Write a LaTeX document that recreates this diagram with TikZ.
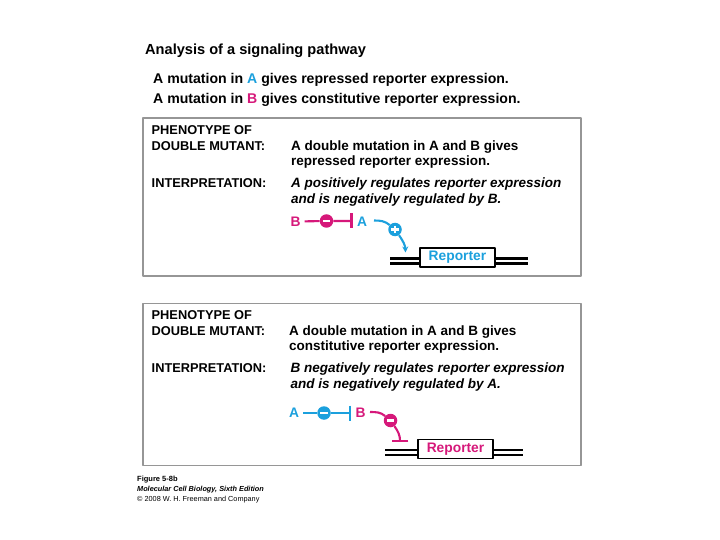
\documentclass[tikz,border=0pt]{standalone}
\usepackage{fontspec}
\setmainfont{Liberation Sans}
\usetikzlibrary{arrows.meta}
\definecolor{pathcyan}{RGB}{27,160,221}
\definecolor{pathmag}{RGB}{214,24,122}
\definecolor{framegray}{RGB}{150,150,150}

\begin{document}
\begin{tikzpicture}[x=1pt, y=-1pt, line join=round,
	txt/.style={anchor=base west, inner sep=0pt, font=\bfseries\fontsize{13.5}{16}\selectfont},
	itxt/.style={anchor=base west, inner sep=0pt, font=\bfseries\itshape\fontsize{13.5}{16}\selectfont},
	lbl/.style={anchor=base west, inner sep=0pt, font=\bfseries\fontsize{12.8}{16}\selectfont},
	foot/.style={anchor=base west, inner sep=0pt, font=\fontsize{7.3}{9}\selectfont},
	gene/.style={inner sep=4pt, font=\bfseries\fontsize{13.8}{16}\selectfont, text=#1},
	sign/.style={circle, fill=#1, minimum size=13.5pt, inner sep=0pt},
	minus/.style={path picture={\draw[white, line width=2.2pt]
		([xshift=3pt]path picture bounding box.west) -- ([xshift=-3pt]path picture bounding box.east);}},
	plus/.style={path picture={\draw[white, line width=2.2pt]
		([xshift=3pt]path picture bounding box.west) -- ([xshift=-3pt]path picture bounding box.east)
		([yshift=-3pt]path picture bounding box.north) -- ([yshift=3pt]path picture bounding box.south);}},
	repbox/.style={draw=black, fill=white, line width=1.3pt, minimum width=75pt, minimum height=19pt,
		inner sep=0pt, font=\bfseries\fontsize{13.8}{16}\selectfont},
	dna/.style={draw=black, line width=2.3pt, double=white, double distance=2.7pt},
	frame/.style={draw=framegray, line width=1.9pt},
	link/.style={line width=2.1pt}
	]
	
	% page
	\useasboundingbox[fill=white] (0,0) rectangle (720,540);
	
	% Heading and the two single mutants
	\node[txt, font=\bfseries\fontsize{14.6}{17}\selectfont] (title) at (145,54.5) {Analysis of a signaling pathway};
	\node[txt, font=\bfseries\fontsize{14.1}{17}\selectfont] (mutA) at (153,83.7)
		{A mutation in \textcolor{pathcyan}{A} gives repressed reporter expression.};
	\node[txt, font=\bfseries\fontsize{14.1}{17}\selectfont] (mutB) at (153,103.7)
		{A mutation in \textcolor{pathmag}{B} gives constitutive reporter expression.};
	
	% First case: B acts through A
	\draw[frame] (143,118) rectangle (581,276);
	\node[lbl] (phen1) at (151.5,134.7) {PHENOTYPE OF};
	\node[lbl] (dbl1) at (151.5,150.7) {DOUBLE MUTANT:};
	\node[txt] (res1a) at (291,150.7) {A double mutation in A and B gives};
	\node[txt] (res1b) at (291,165.2) {repressed reporter expression.};
	\node[lbl] (int1) at (151.5,187.7) {INTERPRETATION:};
	\node[itxt] (exp1a) at (291,187.7) {A positively regulates reporter expression};
	\node[itxt] (exp1b) at (291,203.3) {and is negatively regulated by B.};
	
	\node[gene=pathmag] (b1) at (295.5,221.5) {B};
	\node[sign=pathmag, minus] (neg1) at (326.5,221) {};
	\coordinate (bar1) at (352.5,221);
	\node[gene=pathcyan] (a1) at (362,221.5) {A};
	\draw[pathmag, link, -{Bar[width=15pt]}] (b1) -- (neg1) -- (bar1);
	
	\coordinate (a1out) at (374,220.5);
	\node[sign=pathcyan, plus] (pos1) at (395,229.5) {};
	\coordinate (tip1) at (405.5,252.5);
	\draw[pathcyan, link] (a1out) to[out=0, in=140] (pos1);
	\draw[pathcyan, link, -{Stealth[length=6pt, width=6pt]}] (pos1) to[out=-55, in=92] (tip1);
	
	\node[repbox, text=pathcyan] (rep1) at (457.5,257.5) {Reporter};
	\coordinate (dna1w) at (390,261);
	\coordinate (dna1e) at (528,261);
	\draw[dna] (dna1w) -- (rep1.west |- dna1w);
	\draw[dna] (rep1.east |- dna1e) -- (dna1e);
	
	% Second case: A acts through B
	\draw[frame] (143,303.5) rectangle (581,465.5);
	\node[lbl] (phen2) at (151.5,319.7) {PHENOTYPE OF};
	\node[lbl] (dbl2) at (151.5,335.7) {DOUBLE MUTANT:};
	\node[txt] (res2a) at (289,335.7) {A double mutation in A and B gives};
	\node[txt] (res2b) at (289,350) {constitutive reporter expression.};
	\node[lbl] (int2) at (151.5,372.7) {INTERPRETATION:};
	\node[itxt] (exp2a) at (290.5,372.7) {B negatively regulates reporter expression};
	\node[itxt] (exp2b) at (290.5,388.3) {and is negatively regulated by A.};
	
	\node[gene=pathcyan] (a2) at (294,413) {A};
	\node[sign=pathcyan, minus] (neg2) at (324,413) {};
	\coordinate (bar2) at (351,413);
	\node[gene=pathmag] (b2) at (360.5,413) {B};
	\draw[pathcyan, link, -{Bar[width=15pt]}] (a2) -- (neg2) -- (bar2);
	
	\coordinate (b2out) at (370,412);
	\node[sign=pathmag, minus] (neg3) at (390.5,420.5) {};
	\coordinate (tip2) at (400,442);
	\draw[pathmag, link] (b2out) to[out=0, in=140] (neg3);
	\draw[pathmag, link, -{Bar[width=16.5pt]}] (neg3) to[out=-55, in=90] (tip2);
	
	\node[repbox, text=pathmag] (rep2) at (455.5,449) {Reporter};
	\coordinate (dna2w) at (385,452.2);
	\coordinate (dna2e) at (523,452.2);
	\draw[dna] (dna2w) -- (rep2.west |- dna2w);
	\draw[dna] (rep2.east |- dna2e) -- (dna2e);
	
	% Credit line
	\node[foot, font=\bfseries\fontsize{7.5}{9}\selectfont] (fig) at (137,481) {Figure 5-8b};
	\node[foot, font=\bfseries\itshape\fontsize{7.3}{9}\selectfont] (book) at (137,491.3) {Molecular Cell Biology, Sixth Edition};
	\node[foot] (copy) at (137,501) {© 2008 W. H. Freeman and Company};
	
\end{tikzpicture}
\end{document}
